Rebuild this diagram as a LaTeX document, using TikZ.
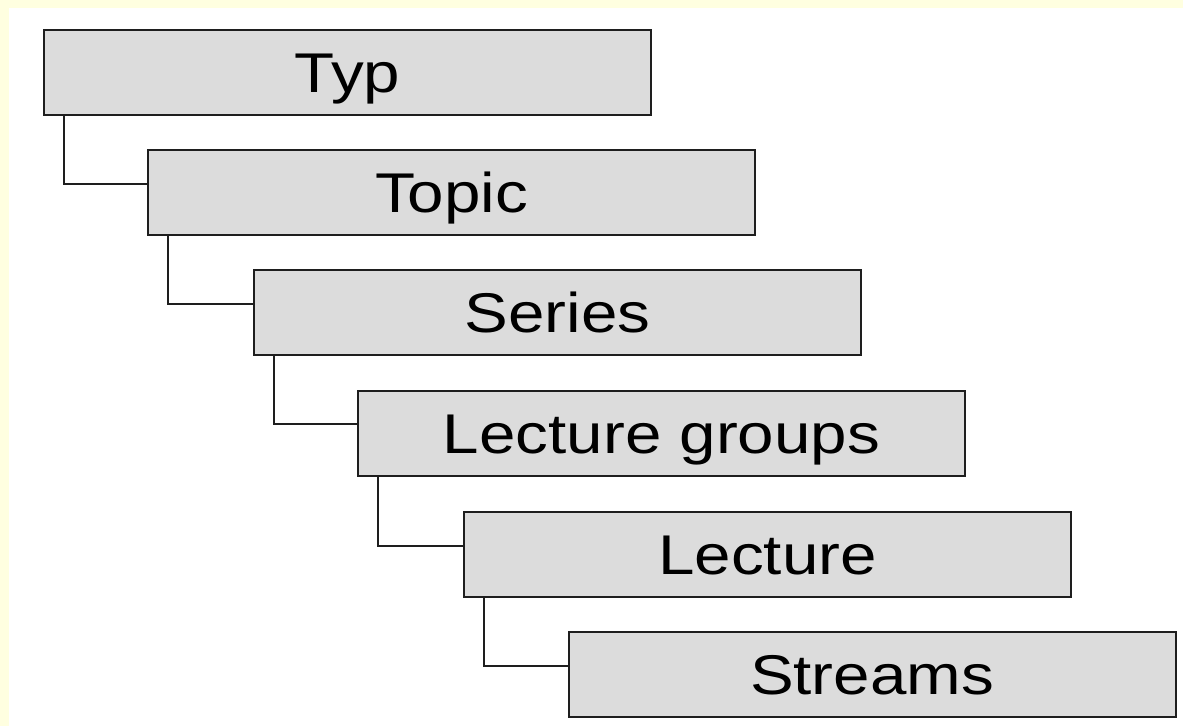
\documentclass[tikz,border=0pt]{standalone}
\usepackage{fontspec}
\usetikzlibrary{positioning}
\newfontfamily\boxfont[FakeStretch=1.17]{Liberation Sans}
\definecolor{pagebg}{RGB}{255,255,224}
\definecolor{boxfill}{RGB}{220,220,220}
\definecolor{boxline}{RGB}{30,30,30}

\tikzset{
  level/.style={draw=boxline, line width=2pt, fill=boxfill, minimum width=607pt,
    minimum height=85pt, inner sep=0pt, text height=40pt, text depth=0pt,
    font=\boxfont\fontsize{56}{60}\selectfont},
  link/.style={draw=boxline, line width=2pt}
}

\begin{document}
\begin{tikzpicture}[x=1pt,y=1pt]
%background: yellow strip on left and top
\fill [pagebg] (0,0) rectangle (1183,726);
\fill [white] (9,0) rectangle (1183,718);
\useasboundingbox (0,0) rectangle (1183,726);

% Levels
\node [level] (typ) at (347.5,653.5) {Typ};
\node [level] (topic) at (451.5,533) {Topic};
\node [level] (series) at (557.5,413) {Series};
\node [level] (groups) at (661.5,292.5) {Lecture groups};
\node [level] (lecture) at (767.5,171.5) {Lecture};
\node [level] (streams) at (872,51.5) {Streams};

% Links
\foreach \a/\b in {typ/topic,topic/series,series/groups,groups/lecture,lecture/streams}
  \draw [link] ([xshift=21pt]\a.south west) |- ([yshift=9pt]\b.west);

\end{tikzpicture}
\end{document}
